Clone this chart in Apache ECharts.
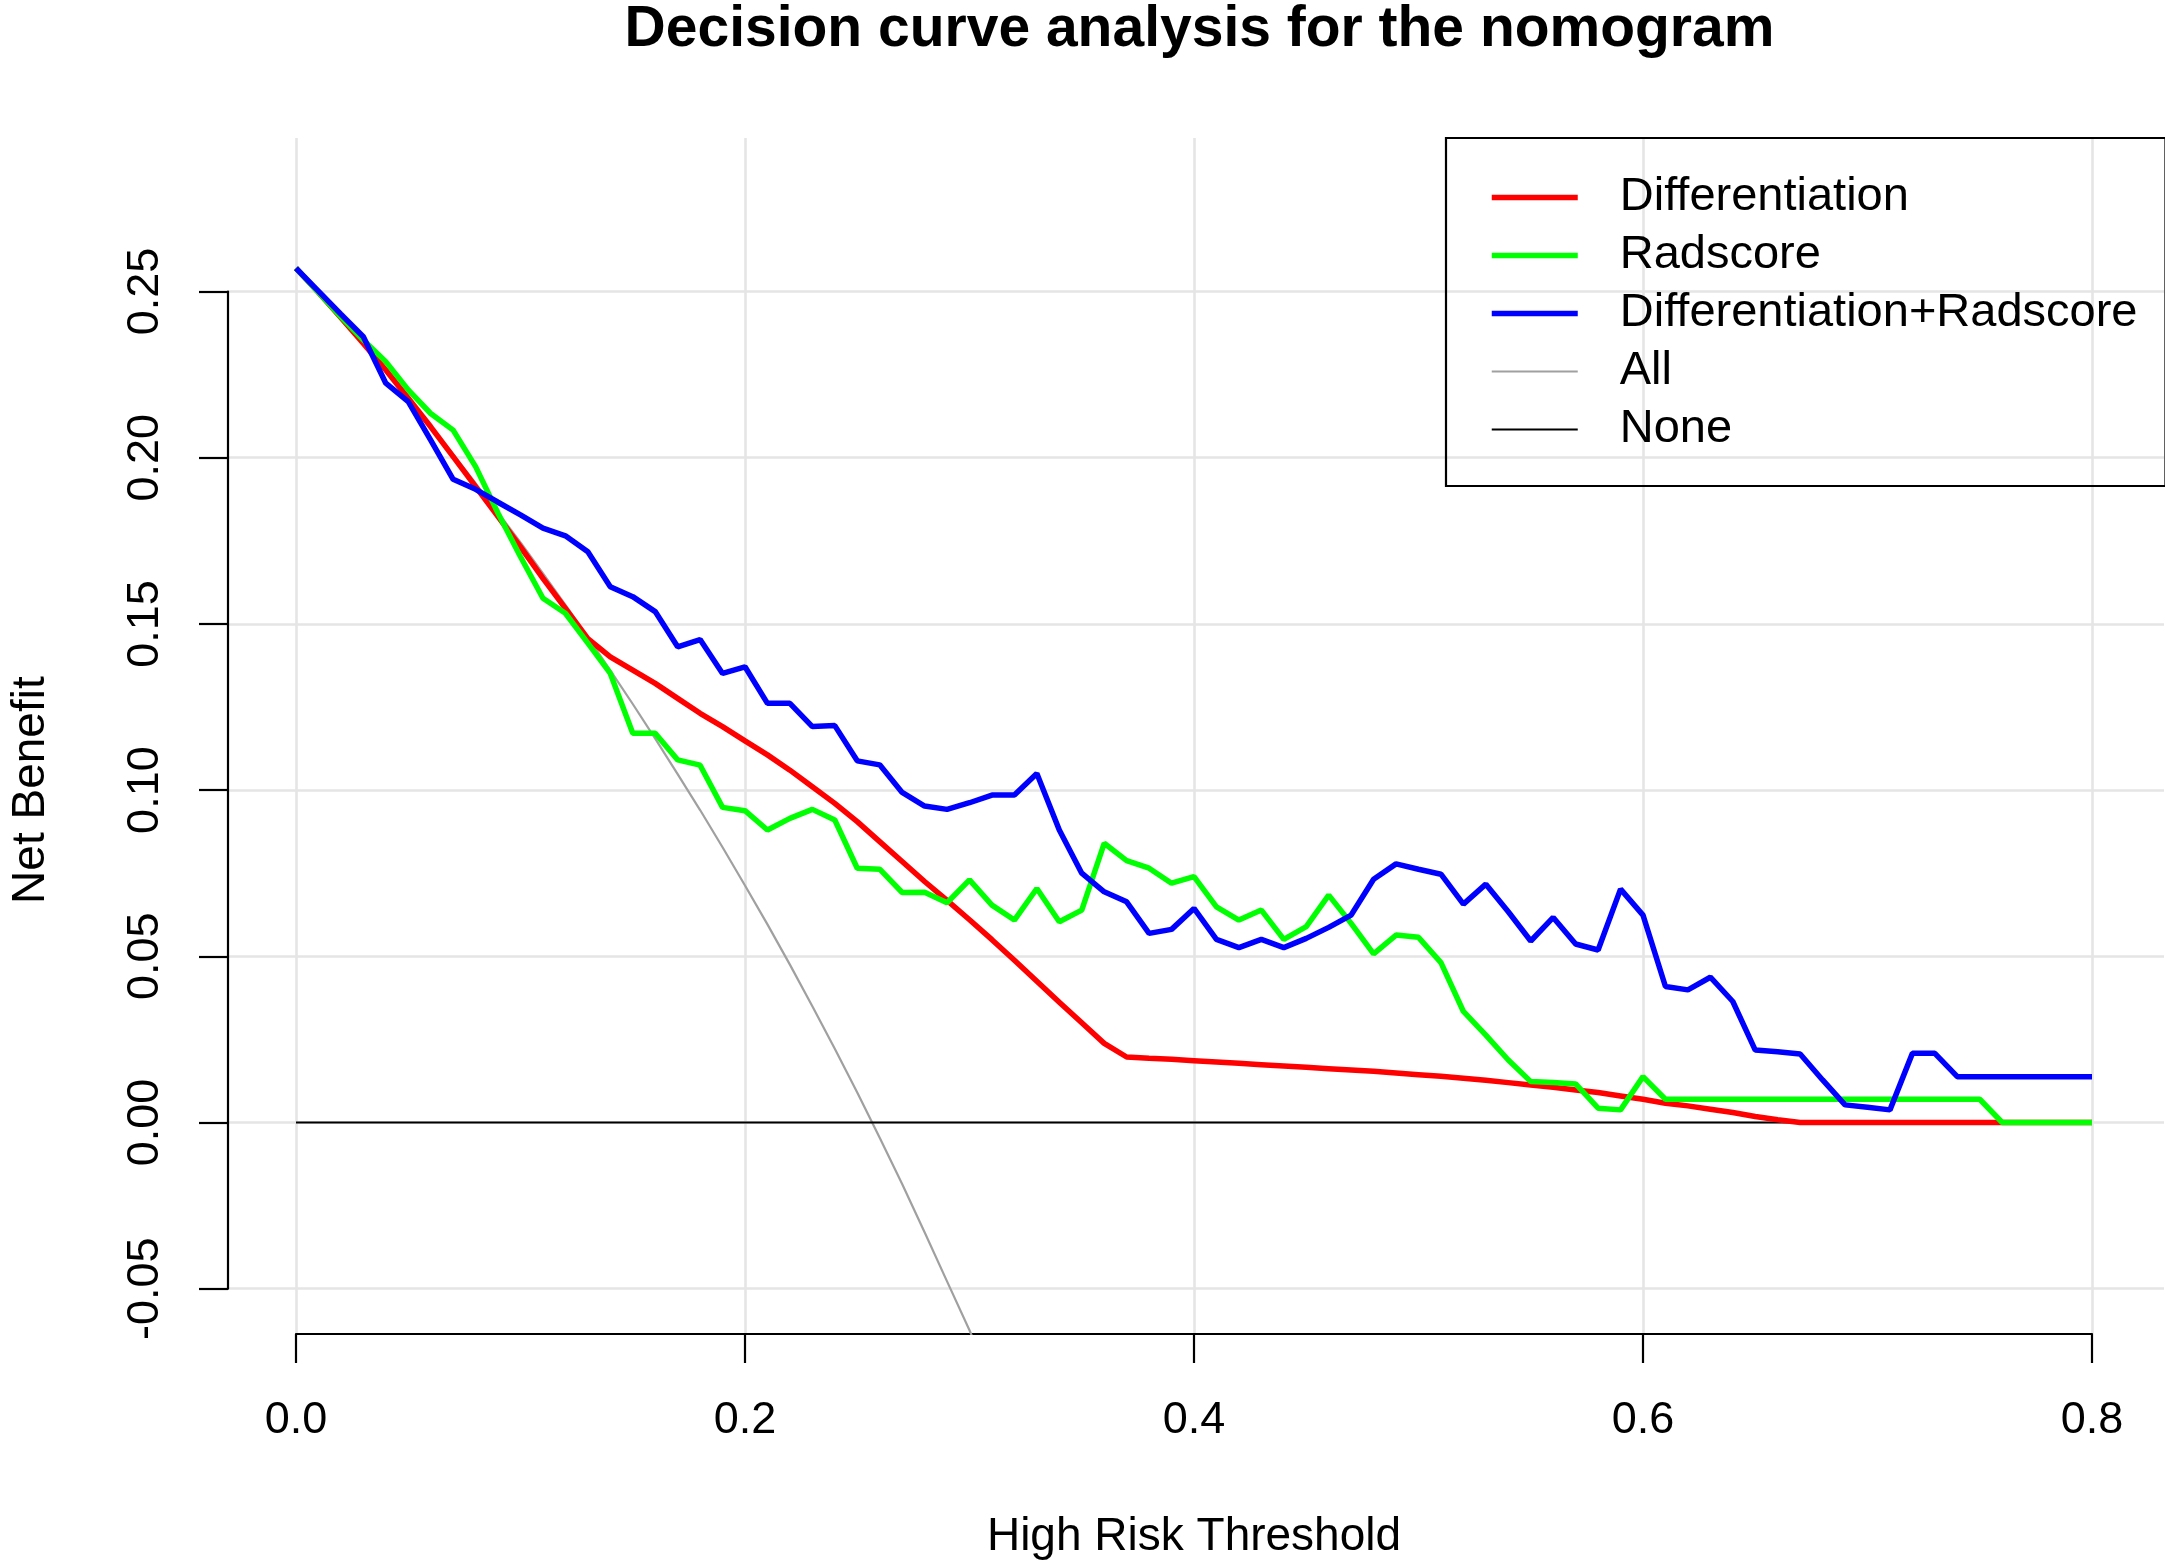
<!DOCTYPE html>
<html>
<head>
<meta charset="utf-8">
<title>Decision curve analysis for the nomogram</title>
<script src="https://cdn.jsdelivr.net/npm/echarts@6/dist/echarts.min.js"></script>
<style>
  html, body { margin: 0; padding: 0; background: #fff; }
  #chart { width: 2165px; height: 1568px; }
</style>
</head>
<body>
<div id="chart"></div>
<script>
// threshold probabilities (x) and net benefit
var thresholds = [
  0.00, 0.01, 0.02, 0.03, 0.04, 0.05, 0.06, 0.07, 0.08, 0.09,
  0.10, 0.11, 0.12, 0.13, 0.14, 0.15, 0.16, 0.17, 0.18, 0.19,
  0.20, 0.21, 0.22, 0.23, 0.24, 0.25, 0.26, 0.27, 0.28, 0.29,
  0.30, 0.31, 0.32, 0.33, 0.34, 0.35, 0.36, 0.37, 0.38, 0.39,
  0.40, 0.41, 0.42, 0.43, 0.44, 0.45, 0.46, 0.47, 0.48, 0.49,
  0.50, 0.51, 0.52, 0.53, 0.54, 0.55, 0.56, 0.57, 0.58, 0.59,
  0.60, 0.61, 0.62, 0.63, 0.64, 0.65, 0.66, 0.67, 0.68, 0.69,
  0.70, 0.71, 0.72, 0.73, 0.74, 0.75, 0.76, 0.77, 0.78, 0.79,
  0.80
];

var differentiation = [
  0.2570, 0.2497, 0.2421, 0.2344, 0.2264, 0.2179, 0.2093, 0.2003, 0.1913, 0.1823,
  0.1732, 0.1637, 0.1547, 0.1456, 0.1401, 0.1361, 0.1321, 0.1276, 0.1231, 0.1191,
  0.1148, 0.1106, 0.1060, 0.1010, 0.0960, 0.0905, 0.0845, 0.0785, 0.0725, 0.0668,
  0.0610, 0.0550, 0.0488, 0.0425, 0.0362, 0.0300, 0.0238, 0.0197, 0.0193, 0.0190,
  0.0186, 0.0182, 0.0178, 0.0174, 0.0170, 0.0166, 0.0162, 0.0158, 0.0154, 0.0149,
  0.0144, 0.0139, 0.0133, 0.0127, 0.0120, 0.0113, 0.0106, 0.0098, 0.0090, 0.0080,
  0.0070, 0.0058, 0.0050, 0.0040, 0.0030, 0.0018, 0.0008, 0.0000, 0.0000, 0.0000,
  0.0000, 0.0000, 0.0000, 0.0000, 0.0000, 0.0000, 0.0000, 0.0000, 0.0000, 0.0000,
  0.0000
];

var radscore = [
  0.2570, 0.2497, 0.2424, 0.2354, 0.2289, 0.2204, 0.2133, 0.2083, 0.1973, 0.1833,
  0.1702, 0.1577, 0.1532, 0.1442, 0.1351, 0.1171, 0.1171, 0.1091, 0.1075, 0.0948,
  0.0938, 0.0880, 0.0915, 0.0942, 0.0910, 0.0765, 0.0762, 0.0692, 0.0693, 0.0661,
  0.0730, 0.0654, 0.0609, 0.0704, 0.0604, 0.0639, 0.0840, 0.0788, 0.0765, 0.0720,
  0.0740, 0.0649, 0.0609, 0.0639, 0.0551, 0.0589, 0.0684, 0.0599, 0.0507, 0.0564,
  0.0557, 0.0481, 0.0334, 0.0263, 0.0188, 0.0123, 0.0120, 0.0116, 0.0043, 0.0038,
  0.0138, 0.0070, 0.0070, 0.0070, 0.0070, 0.0070, 0.0070, 0.0070, 0.0070, 0.0070,
  0.0070, 0.0070, 0.0070, 0.0070, 0.0070, 0.0070, 0.0000, 0.0000, 0.0000, 0.0000,
  0.0000
];

var combined = [
  0.2570, 0.2501, 0.2432, 0.2364, 0.2224, 0.2169, 0.2053, 0.1935, 0.1905, 0.1866,
  0.1828, 0.1788, 0.1765, 0.1717, 0.1612, 0.1582, 0.1537, 0.1431, 0.1453, 0.1351,
  0.1371, 0.1261, 0.1261, 0.1191, 0.1194, 0.1088, 0.1076, 0.0993, 0.0952, 0.0942,
  0.0962, 0.0985, 0.0985, 0.1050, 0.0880, 0.0750, 0.0694, 0.0664, 0.0569, 0.0581,
  0.0644, 0.0551, 0.0526, 0.0551, 0.0526, 0.0554, 0.0587, 0.0624, 0.0732, 0.0778,
  0.0762, 0.0747, 0.0657, 0.0717, 0.0634, 0.0546, 0.0617, 0.0537, 0.0519, 0.0702,
  0.0624, 0.0409, 0.0399, 0.0437, 0.0364, 0.0218, 0.0213, 0.0206, 0.0128, 0.0053,
  0.0046, 0.0038, 0.0208, 0.0208, 0.0138, 0.0138, 0.0138, 0.0138, 0.0138, 0.0138,
  0.0138
];

// treat-all curve, leaves the plot below -0.06
var treatAll = [
  0.2570, 0.2495, 0.2418, 0.2340, 0.2260, 0.2178, 0.2095, 0.2010, 0.1923, 0.1835,
  0.1745, 0.1652, 0.1557, 0.1460, 0.1360, 0.1259, 0.1155, 0.1048, 0.0940, 0.0828,
  0.0713, 0.0596, 0.0475, 0.0350, 0.0222, 0.0090, -0.0046, -0.0185, -0.0330, -0.0478,
  -0.0625, -0.0786
];

var noneX = [0.0, 0.8];
var noneY = [0.0, 0.0];

var xTicks = [0.0, 0.2, 0.4, 0.6, 0.8];
var yTicks = [-0.05, 0.00, 0.05, 0.10, 0.15, 0.20, 0.25];

// plot frame in pixels (R-style layout)
var X0 = 296, XS = 2245;        // px of x=0, px per unit
var Y0 = 1122.5, YS = 3324;     // px of y=0, px per unit
var PL = 225, PR = 2164, PT = 138, PB = 1334;

var FONT = "'Liberation Sans', Arial, sans-serif";

function pairs(xs, ys) {
  var out = [];
  for (var i = 0; i < ys.length; i++) {
    out.push([xs[i], ys[i]]);
  }
  return out;
}

var chart = echarts.init(document.getElementById('chart'), null, { renderer: 'canvas' });

var tickStyle = { color: '#000', width: 2.2 };
var gridLine = { show: true, lineStyle: { color: '#e5e5e5', width: 2.6 } };

var option = {
  backgroundColor: '#fff',
  animation: false,
  title: {
    text: 'Decision curve analysis for the nomogram',
    left: (PL + PR) / 2,
    textAlign: 'center',
    top: -3,
    textStyle: { fontFamily: FONT, fontSize: 57, fontWeight: 'bold', color: '#000' }
  },
  legend: {
    orient: 'vertical',
    left: 1446,
    top: PT,
    padding: [36, 28, 33, 43],
    itemWidth: 86,
    itemHeight: 20,
    itemGap: 11,
    borderColor: '#000',
    borderWidth: 2.2,
    selectedMode: false,
    itemStyle: { opacity: 0 },
    lineStyle: { width: 'inherit' },
    textStyle: { fontFamily: FONT, fontSize: 47, lineHeight: 46, color: '#000', padding: [0, 0, 0, 37] },
    data: ['Differentiation', 'Radscore', 'Differentiation+Radscore', 'All', 'None']
  },
  grid: [
    { left: PL, top: PT, width: PR - PL, height: PB - PT },
    { left: X0, top: PT, width: 0.8 * XS, height: PB - PT },
    { left: PL, top: Y0 - 0.25 * YS, width: PR - PL, height: 0.30 * YS }
  ],
  xAxis: [
    { gridIndex: 0, type: 'value', min: (PL - X0) / XS, max: (PR - X0) / XS, show: false },
    {
      gridIndex: 1, type: 'value', min: xTicks[0], max: xTicks[xTicks.length - 1], interval: 0.2,
      axisLine: { show: true, onZero: false, lineStyle: tickStyle },
      axisTick: { show: true, inside: false, length: 29, lineStyle: tickStyle },
      axisLabel: {
        margin: 64, fontFamily: FONT, fontSize: 45, color: '#000',
        formatter: function (v) { return v.toFixed(1); }
      },
      splitLine: gridLine,
      name: 'High Risk Threshold',
      nameLocation: 'middle',
      nameGap: 180,
      nameTextStyle: { fontFamily: FONT, fontSize: 46, color: '#000' }
    },
    { gridIndex: 2, type: 'value', min: 0, max: 1, show: false }
  ],
  yAxis: [
    { gridIndex: 0, type: 'value', min: (Y0 - PB) / YS, max: (Y0 - PT) / YS, show: false },
    { gridIndex: 1, type: 'value', min: 0, max: 1, show: false },
    {
      gridIndex: 2, type: 'value', min: yTicks[0], max: yTicks[yTicks.length - 1], interval: 0.05,
      axisLine: { show: true, onZero: false, lineStyle: tickStyle },
      axisTick: { show: true, inside: false, length: 29, lineStyle: tickStyle },
      axisLabel: {
        rotate: 90, margin: 60, fontFamily: FONT, fontSize: 45, color: '#000',
        formatter: function (v) { return v.toFixed(2); }
      },
      splitLine: gridLine,
      name: 'Net Benefit',
      nameLocation: 'middle',
      nameRotate: 90,
      nameGap: 174,
      nameTextStyle: { fontFamily: FONT, fontSize: 46, color: '#000' }
    }
  ],
  series: [
    {
      name: 'All', type: 'line', xAxisIndex: 0, yAxisIndex: 0,
      symbol: 'none', color: '#a0a0a0',
      lineStyle: { color: '#a0a0a0', width: 2.2 },
      data: pairs(thresholds, treatAll)
    },
    {
      name: 'None', type: 'line', xAxisIndex: 0, yAxisIndex: 0,
      symbol: 'none', color: '#000',
      lineStyle: { color: '#000', width: 2.2 },
      data: pairs(noneX, noneY)
    },
    {
      name: 'Differentiation', type: 'line', xAxisIndex: 0, yAxisIndex: 0,
      symbol: 'none', color: '#ff0000',
      lineStyle: { color: '#ff0000', width: 5.5 },
      data: pairs(thresholds, differentiation)
    },
    {
      name: 'Radscore', type: 'line', xAxisIndex: 0, yAxisIndex: 0,
      symbol: 'none', color: '#00ff00',
      lineStyle: { color: '#00ff00', width: 5.5 },
      data: pairs(thresholds, radscore)
    },
    {
      name: 'Differentiation+Radscore', type: 'line', xAxisIndex: 0, yAxisIndex: 0,
      symbol: 'none', color: '#0000ff',
      lineStyle: { color: '#0000ff', width: 5.5 },
      data: pairs(thresholds, combined)
    }
  ]
};

chart.setOption(option);
</script>
</body>
</html>
